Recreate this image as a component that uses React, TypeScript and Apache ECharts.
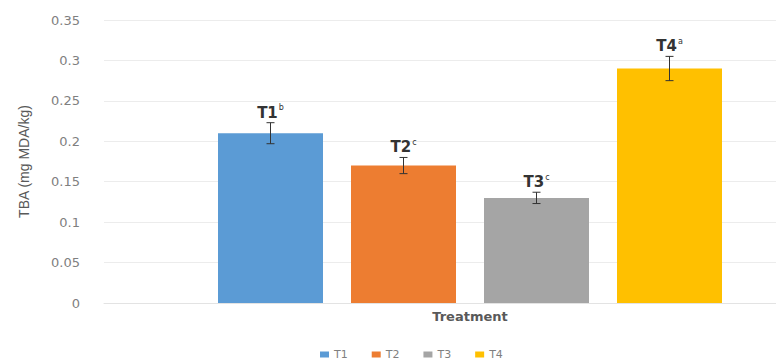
import React, { useEffect, useRef } from "react";
import * as echarts from "echarts";

// Treatments and their mean TBA values with standard errors
const treatments = ["T1", "T2", "T3", "T4"];
const tbaMeans = [0.21, 0.17, 0.13, 0.29];
const tbaErrors = [0.013, 0.01, 0.007, 0.015];
const significance = ["b", "c", "c", "a"];
const colors = ["#5B9BD5", "#ED7D31", "#A5A5A5", "#FFC000"];
const categories = [""];

const BAR_WIDTH = 105;
const BAR_SPACING = 28;

export default function App() {
  const ref = useRef<HTMLDivElement>(null);

  useEffect(() => {
    if (!ref.current) return;
    const chart = echarts.init(ref.current, undefined, { renderer: "svg" });

    const barSeries = treatments.map((name, i) => ({
      name,
      type: "bar",
      data: [tbaMeans[i]],
      barWidth: BAR_WIDTH,
      barGap: (BAR_SPACING / BAR_WIDTH) * 100 + "%",
      itemStyle: { color: colors[i] },
    }));

    const errorSeries = {
      type: "custom",
      silent: true,
      z: 10,
      data: treatments.map((_, i) => [0, tbaMeans[i], tbaErrors[i], i]),
      renderItem: (_params: any, api: any) => {
        const mean = api.value(1);
        const err = api.value(2);
        const idx = api.value(3);
        const offset = (idx - (treatments.length - 1) / 2) * (BAR_WIDTH + BAR_SPACING);
        const top = api.coord([0, mean + err]);
        const bottom = api.coord([0, mean - err]);
        const x = top[0] + offset;
        const cap = 4;
        const lineStyle = { stroke: "#333333", lineWidth: 1 };
        return {
          type: "group",
          children: [
            { type: "line", shape: { x1: x, y1: top[1], x2: x, y2: bottom[1] }, style: lineStyle },
            { type: "line", shape: { x1: x - cap, y1: top[1], x2: x + cap, y2: top[1] }, style: lineStyle },
            { type: "line", shape: { x1: x - cap, y1: bottom[1], x2: x + cap, y2: bottom[1] }, style: lineStyle },
            {
              type: "text",
              x: x,
              y: top[1] - 1,
              style: {
                text: `{m|${treatments[idx]}}{s|${significance[idx]}}`,
                align: "center",
                verticalAlign: "bottom",
                rich: {
                  m: { fontSize: 15, fontWeight: "bold", fill: "#333333", fontFamily: "DejaVu Sans", lineHeight: 18 },
                  s: { fontSize: 8, fill: "#333333", fontFamily: "DejaVu Sans", verticalAlign: "top", lineHeight: 18, padding: [0, 0, 8, 1] },
                },
              },
            },
          ],
        };
      },
    };

    chart.setOption({
      animation: false,
      backgroundColor: "#ffffff",
      // The plot area runs on past the right edge of the visible window
      grid: { left: 104, top: 20, bottom: 58, right: 0 },
      legend: {
        data: treatments,
        left: 315,
        top: 344,
        icon: "rect",
        itemWidth: 9,
        itemHeight: 6,
        itemGap: 24,
        textStyle: { color: "#7f7f7f", fontSize: 11, fontFamily: "DejaVu Sans" },
      },
      xAxis: {
        type: "category",
        data: categories,
        name: "Treatment",
        nameLocation: "middle",
        nameGap: 7,
        nameTextStyle: { color: "#595959", fontSize: 13, fontWeight: "bold", fontFamily: "DejaVu Sans" },
        axisLine: { lineStyle: { color: "#e3e3e3" } },
        axisTick: { show: false },
        axisLabel: { show: false },
      },
      yAxis: {
        type: "value",
        min: 0,
        max: 0.35,
        interval: 0.05,
        name: "TBA (mg MDA/kg)",
        nameLocation: "middle",
        nameGap: 73,
        nameTextStyle: { color: "#595959", fontSize: 14, fontFamily: "Liberation Sans" },
        axisLine: { show: false },
        axisTick: { show: false },
        axisLabel: {
          color: "#7f7f7f",
          fontSize: 13,
          fontFamily: "DejaVu Sans",
          margin: 24,
          formatter: (v: number) => String(parseFloat(v.toFixed(2))),
        },
        splitLine: { lineStyle: { color: "#ececec" } },
      },
      series: [...barSeries, errorSeries],
    });

    return () => chart.dispose();
  }, []);

  return (
    <div
      ref={ref}
      style={{ position: "fixed", left: 0, top: 0, width: 836, height: 361 }}
    />
  );
}
